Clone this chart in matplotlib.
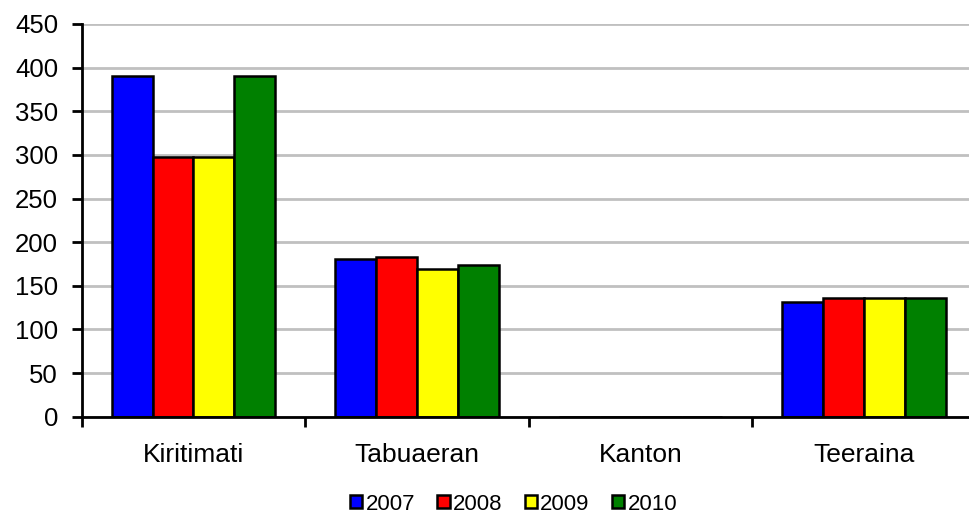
import matplotlib
matplotlib.use("Agg")
import matplotlib.pyplot as plt
from matplotlib.patches import Patch
import numpy as np

plt.rcParams['font.family'] = ['Liberation Sans', 'DejaVu Sans']

categories = ["Kiritimati", "Tabuaeran", "Kanton", "Teeraina"]
years = ["2007", "2008", "2009", "2010"]
v2007 = [390, 181, 0, 131]
v2008 = [298, 183, 0, 136]
v2009 = [298, 169, 0, 136]
v2010 = [390, 174, 0, 136]
series = [v2007, v2008, v2009, v2010]
colors = ["#0000FF", "#FF0000", "#FFFF00", "#008000"]
yticks = [0, 50, 100, 150, 200, 250, 300, 350, 400, 450]

fig = plt.figure(figsize=(9.69, 5.18), dpi=100)
ax = fig.add_axes([0.0843, 0.1956, 0.9229, 0.7581])

bw = 0.183
off = (1 - 4 * bw) / 2
x = np.arange(len(categories))
for i, (vals, c, y) in enumerate(zip(series, colors, years)):
    ax.bar(x + off + i * bw, vals, width=bw, align='edge', color=c,
           edgecolor='black', linewidth=1.8, zorder=3, label=y)

ax.set_xlim(0, len(categories))
ax.set_ylim(0, 450)
ax.set_yticks(yticks)
ax.set_yticklabels([str(t) for t in yticks], fontsize=18.5)
ax.yaxis.grid(True, color='#c0c0c0', linewidth=2.0, zorder=0)
ax.set_axisbelow(True)

ax.set_xticks(np.arange(len(categories) + 1))
ax.set_xticklabels([])
ax.set_xticks(x + 0.5, minor=True)
ax.set_xticklabels(categories, minor=True, fontsize=19)
ax.tick_params(axis='x', which='minor', length=0, pad=19)
ax.tick_params(axis='x', which='major', length=7, width=2, direction='out')
ax.tick_params(axis='y', length=7, width=2, direction='out', pad=10)

for s in ['top', 'right']:
    ax.spines[s].set_visible(False)
for s in ['left', 'bottom']:
    ax.spines[s].set_linewidth(2)
    ax.spines[s].set_zorder(4)

handles = [Patch(facecolor=c, edgecolor='black', linewidth=1.8) for c in colors]
fig.legend(handles, years, loc='center', bbox_to_anchor=(0.53, 0.027), ncol=4,
           frameon=False, fontsize=16, handlelength=0.55, handleheight=0.55,
           handletextpad=0.15, columnspacing=1.0, borderpad=0)

fig.savefig("out.png", dpi=100)
